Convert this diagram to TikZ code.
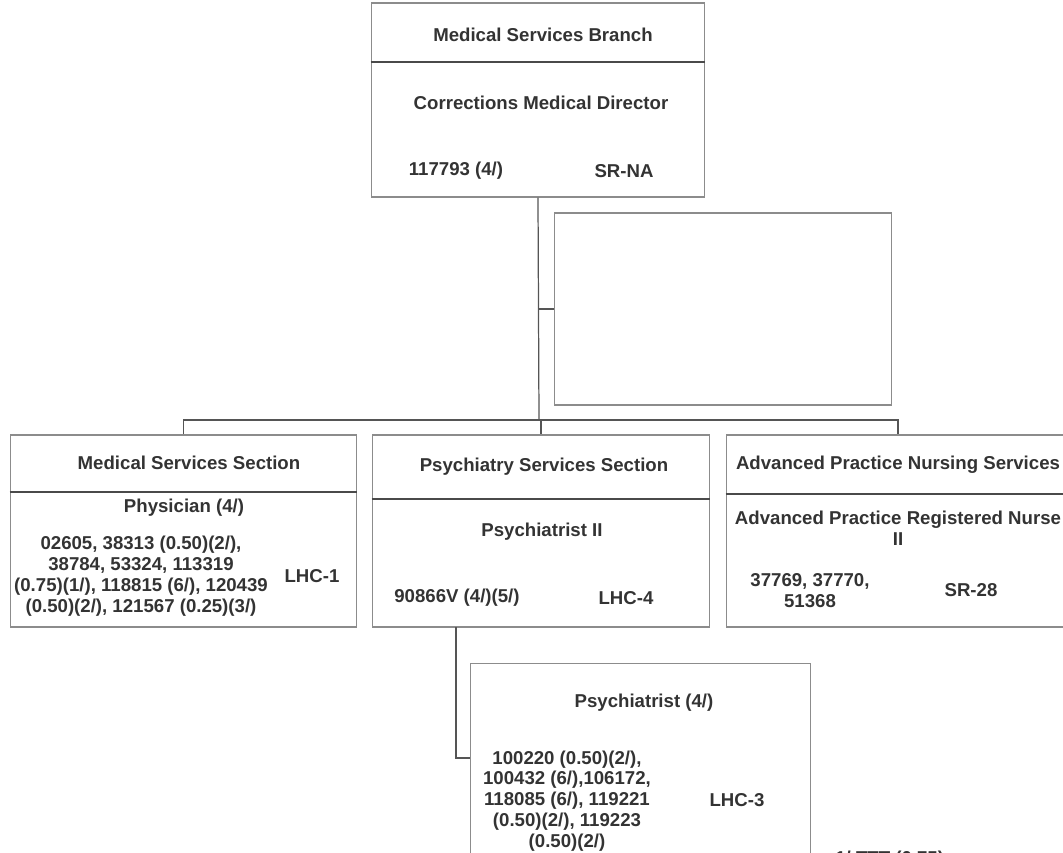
\documentclass[tikz,border=0pt]{standalone}
\usepackage{fontspec}
\setmainfont{Liberation Sans}
\definecolor{boxgray}{HTML}{8C8C8C}
\definecolor{rulegray}{HTML}{4A4A4A}
\definecolor{linkgray}{HTML}{555555}
\definecolor{textgray}{HTML}{333333}
\begin{document}
\begin{tikzpicture}[x=0.02cm, y=-0.02cm,
		unit/.style={draw=boxgray, line width=0.6pt, rectangle, inner sep=0pt},
		divider/.style={draw=rulegray, line width=0.7pt},
		link/.style={draw=linkgray, line width=0.7pt},
		lbl/.style={text=textgray, font=\fontsize{10.6}{11.9}\selectfont\bfseries, inner sep=0pt, align=center}]
			\useasboundingbox (0,0) rectangle (1063,853);
			\clip (0,0) rectangle (1063,853);

			% Boxes
			\node[unit, minimum width=6.68cm, minimum height=3.88cm] (branch) at (538,100) {};
			\node[unit, minimum width=6.76cm, minimum height=3.84cm] (side) at (723,309) {};
			\node[unit, minimum width=6.94cm, minimum height=3.84cm] (medsec) at (183.5,531) {};
			\node[unit, minimum width=6.76cm, minimum height=3.84cm] (psysec) at (541,531) {};
			\node[unit, minimum width=6.88cm, minimum height=3.84cm] (apns) at (898,531) {};
			\node[unit, minimum width=6.82cm, minimum height=4.74cm] (psych) at (640.5,781.5) {};

			% Dividers under the titles
			\draw[divider] (branch.west |- 0,62) -- (branch.east |- 0,62);
			\draw[divider] (medsec.west |- 0,492) -- (medsec.east |- 0,492);
			\draw[divider] (psysec.west |- 0,499) -- (psysec.east |- 0,499);
			\draw[divider] (apns.west |- 0,494) -- (apns.east |- 0,494);

			% Connectors
			\coordinate (bus) at (539,420);
			\coordinate (drop) at (456,627);
			\coordinate (psyin) at (470,758);
			\draw[link] (branch.south) -- (bus);
			\draw[link] (branch.south |- side.west) -- (side.west);
			\draw[link] (medsec.north) |- (bus) -| (apns.north);
			\draw[link] (bus -| psysec.north) -- (psysec.north);
			\draw[link] (drop) |- (psyin);

			% Medical Services Branch
			\node[lbl] (branchttl) at (543,35) {Medical Services Branch};
			\node[lbl] (director) at (541,103) {Corrections Medical Director};
			\node[lbl] (dirpos) at (456,171) {117793 (4/)};
			\node[lbl] (dirclass) at (624,171) {SR-NA};

			% Medical Services Section
			\node[lbl] (medttl) at (189,463) {Medical Services Section};
			\node[lbl] (physician) at (184,508) {Physician (4/)};
			\node[lbl] (medpos) at (141,576) {02605, 38313 (0.50)(2/),\\38784, 53324, 113319\\(0.75)(1/), 118815 (6/), 120439\\(0.50)(2/), 121567 (0.25)(3/)};
			\node[lbl] (medclass) at (312,576) {LHC-1};

			% Psychiatry Services Section
			\node[lbl] (psyttl) at (544,467) {Psychiatry Services Section};
			\node[lbl] (psytwo) at (542,532) {Psychiatrist II};
			\node[lbl] (psypos) at (457,598) {90866V (4/)(5/)};
			\node[lbl] (psyclass) at (626,598) {LHC-4};

			% Advanced Practice Nursing Services
			\node[lbl] (apnsttl) at (898,465) {Advanced Practice Nursing Services};
			\node[lbl] (aprn) at (898,528) {Advanced Practice Registered Nurse\\II};
			\node[lbl] (aprnpos) at (810,591) {37769, 37770,\\51368};
			\node[lbl] (aprnclass) at (971,590) {SR-28};

			% Psychiatrist
			\node[lbl] (psychttl) at (644,703) {Psychiatrist (4/)};
			\node[lbl] (psychpos) at (567,801) {100220 (0.50)(2/),\\100432 (6/),106172,\\118085 (6/), 119221\\(0.50)(2/), 119223\\(0.50)(2/)};
			\node[lbl] (psychclass) at (737,800) {LHC-3};
			\node[lbl, anchor=north west] (cutoff) at (835,851) {1/ TTT (0.75)};
		\end{tikzpicture}
\end{document}
